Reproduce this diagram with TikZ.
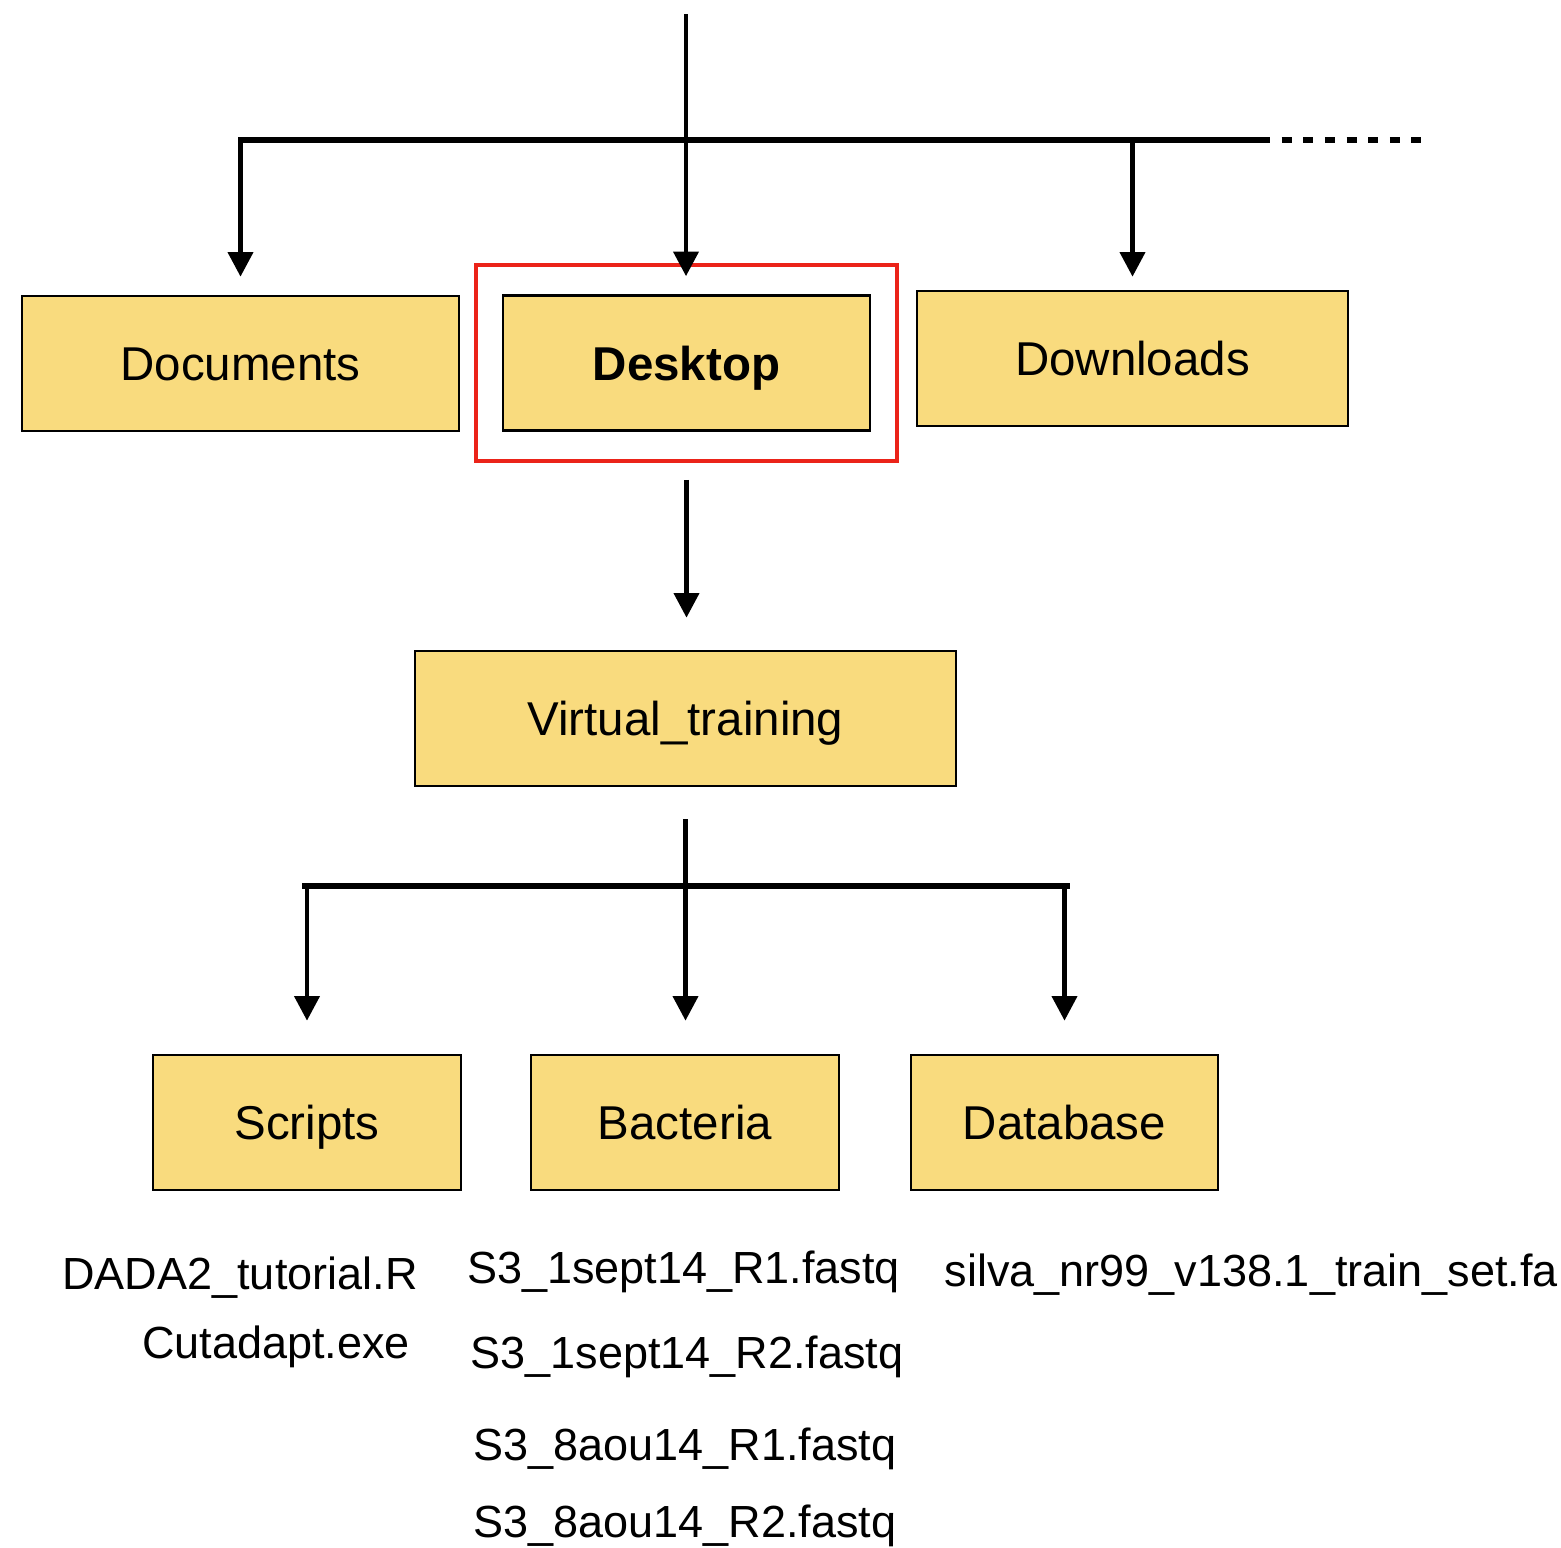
\documentclass[tikz,border=0pt]{standalone}
\usepackage{fontspec}
\setmainfont{Liberation Sans}
\usetikzlibrary{arrows.meta,fit}
\definecolor{folderfill}{RGB}{249,219,126}
\definecolor{framered}{RGB}{235,35,25}

\begin{document}
\begin{tikzpicture}[x=0.01cm, y=-0.01cm,
  folder/.style={draw=black, line width=0.7pt, fill=folderfill, minimum height=1.35cm,
    text height=9.7pt, text depth=0pt, font=\fontsize{13.5}{16}\selectfont},
  file/.style={inner sep=0pt, anchor=base, font=\fontsize{12.8}{15}\selectfont},
  arr/.style={line width=1.4pt, -{Triangle[width=7pt,length=7pt]}},
  bar/.style={line width=1.7pt}]
\useasboundingbox (0,0) rectangle (1561,1547);

% folders
\node[folder, minimum width=4.37cm] (docs) at (240.5,363.5) {Documents};
\node[folder, minimum width=3.67cm, font=\fontsize{13.5}{16}\selectfont\bfseries] (desk) at (686.5,363) {Desktop};
\node[folder, minimum width=4.31cm] (down) at (1132.5,358.5) {Downloads};
\node[draw=framered, line width=1.1pt, inner xsep=0.26cm, inner ysep=0.29cm, fit=(desk)] (deskframe) {};
\node[folder, minimum width=5.41cm] (virt) at (685.5,718.5) {Virtual\_training};
\node[folder, minimum width=3.08cm] (scripts) at (307,1122.5) {Scripts};
\node[folder, minimum width=3.08cm] (bact) at (685,1122.5) {Bacteria};
\node[folder, minimum width=3.07cm] (dbase) at (1064.5,1122.5) {Database};

% files
\node[file] (f1) at (240,1289) {DADA2\_tutorial.R};
\node[file] (f2) at (276,1358) {Cutadapt.exe};
\node[file] (f3) at (683.5,1283) {S3\_1sept14\_R1.fastq};
\node[file] (f4) at (687,1368) {S3\_1sept14\_R2.fastq};
\node[file] (f5) at (685,1460) {S3\_8aou14\_R1.fastq};
\node[file] (f6) at (685,1537) {S3\_8aou14\_R2.fastq};
\node[file, anchor=base west] (f7) at (944,1286) {silva\_nr99\_v138.1\_train\_set.fa};

% top level
\coordinate (root) at (686,14);
\coordinate (bar1l) at (238,140);
\coordinate (bar1r) at (1270,140);
\coordinate (bar1end) at (1421,140);
\draw[bar] (bar1l) -- (bar1r);
\draw[bar, dash pattern=on 2.85pt off 3.3pt, dash phase=2.85pt] (bar1r) -- (bar1end);
\draw[arr, shorten >=0.18cm] (root) -- (root |- desk.north);
\draw[arr, shorten >=0.18cm] (bar1l -| docs.north) -- (docs.north);
\draw[arr, shorten >=0.13cm] (bar1l -| down.north) -- (down.north);

% desktop -> virtual_training
\draw[arr, shorten <=0.17cm, shorten >=0.32cm] (deskframe.south) -- (deskframe.south |- virt.north);

% virtual_training -> subfolders
\coordinate (bar2l) at (302,886);
\coordinate (bar2r) at (1070,886);
\draw[bar] (bar2l) -- (bar2r);
\draw[arr, shorten <=0.32cm, shorten >=0.33cm] (virt.south) -- (virt.south |- bact.north);
\draw[arr, shorten >=0.33cm] (bar2l -| scripts.north) -- (scripts.north);
\draw[arr, shorten >=0.33cm] (bar2l -| dbase.north) -- (dbase.north);
\end{tikzpicture}
\end{document}
